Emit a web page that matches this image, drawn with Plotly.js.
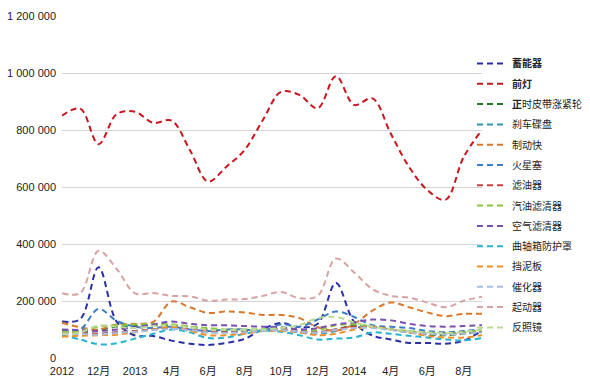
<!DOCTYPE html>
<html>
<head>
<meta charset="utf-8">
<script src="https://cdn.plot.ly/plotly-3.0.1.min.js"></script>
<style>html,body{margin:0;padding:0;background:#fff;}#chart{width:590px;height:386px;}</style>
</head>
<body>
<div id="chart"></div>
<script>
// Months Oct 2012 .. Sep 2014 (index 0..23)
const months = ["2012-10","2012-11","2012-12","2013-01","2013-02","2013-03","2013-04","2013-05","2013-06","2013-07","2013-08","2013-09",
                "2013-10","2013-11","2013-12","2014-01","2014-02","2014-03","2014-04","2014-05","2014-06","2014-07","2014-08","2014-09"];
const tickIdx = [0,2,4,6,8,10,12,14,16,18,20,22];
const tickLabels = ["2012","12月","2013","4月","6月","8月","10月","12月","2014","4月","6月","8月"];
const yTicks = [0,200000,400000,600000,800000,1000000,1200000];
const yTickLabels = ["0","200 000","400 000","600 000","800 000","1 000 000","1 200 000"];

const seriesNames = ["<b>蓄能器</b>","<b>前灯</b>","<b>正</b>时皮带涨紧轮","刹车碟盘","制动快","火星塞","滤油器","汽油滤清器","空气滤清器","曲轴箱防护罩","挡泥板","催化器","起动器","反照镜"];
const seriesColors = ["#2a2fa6","#c8161d","#1f7a22","#2f97ad","#d9782b","#3b7dc6","#c9403f","#8cc43f","#7a4fb0","#27b3d3","#f29026","#a9bde2","#d9a2a2","#bcd996"];

// values in thousands
const xuNengQi   = [128,137,318,127,79,77,61,50,46,53,67,102,123,108,120,263,126,79,65,53,53,50,61,96];
const qianDeng   = [850,875,750,856,864,825,833,730,619,671,730,835,934,923,876,989,888,911,788,671,590,555,706,800];
const zhengShi   = [95,95,98,110,112,115,115,110,100,95,95,95,100,95,90,100,115,110,100,90,82,80,85,92];
const shaChe     = [90,88,85,90,95,100,105,95,90,92,95,100,100,90,85,95,110,110,100,90,85,85,90,95];
const zhiDong    = [123,108,100,118,120,127,198,178,158,163,160,151,151,140,108,96,120,166,195,178,160,147,155,155];
const huoXingSai = [95,100,172,130,110,105,110,100,95,100,100,95,118,110,135,163,144,115,110,105,95,90,95,100];
const lvYou      = [88,88,85,90,95,100,105,100,92,90,92,98,100,95,90,100,110,108,100,92,85,85,88,95];
const qiYou      = [92,95,110,115,118,120,118,110,105,100,100,100,105,100,98,115,118,110,100,95,88,85,90,98];
const kongQi     = [100,98,95,100,108,118,128,120,115,115,112,110,108,100,105,118,125,135,132,120,112,110,112,115];
const quZhou     = [80,65,48,52,68,85,100,90,70,72,85,95,92,80,65,68,72,90,85,78,72,65,62,70];
const dangNi     = [75,78,80,82,90,100,110,95,80,80,85,95,95,90,80,85,100,110,100,90,78,72,72,80];
const cuiHua     = [85,84,82,88,92,98,102,98,90,88,90,95,98,92,88,98,105,105,98,90,85,82,85,90];
const qiDong     = [227,228,376,312,227,228,218,216,201,205,207,218,232,210,218,349,300,242,218,212,195,178,201,215];
const fanZhao    = [85,90,114,110,105,112,115,108,100,98,98,100,105,115,140,144,125,110,100,95,90,88,92,100];

const allSeries = [xuNengQi,qianDeng,zhengShi,shaChe,zhiDong,huoXingSai,lvYou,qiYou,kongQi,quZhou,dangNi,cuiHua,qiDong,fanZhao];
const xIdx = months.map((m,i)=>i);

const traces = allSeries.map((vals,k)=>({
  type:'scatter', mode:'lines',
  x:xIdx, y:vals.map(v=>v*1000),
  name:seriesNames[k],
  legendgroup:'g'+k,
  line:{color:seriesColors[k], width:2, dash:'6px,4px', shape:'spline', smoothing:1},
  hoverinfo:'skip'
}));

const W = 590, H = 386, ML = 62, MR = 0, MT = 16, MB = 28;
const innerW = W - ML - MR;
const layout = {
  width:W, height:H,
  margin:{l:ML, r:MR, t:MT, b:MB},
  paper_bgcolor:'#fff', plot_bgcolor:'#fff',
  font:{family:'"Liberation Sans", "Noto Sans CJK SC", Arial, sans-serif', size:11, color:'#222'},
  showlegend:true,
  legend:{x:(472-ML)/innerW, xanchor:'left', y:(358-49)/342, yanchor:'top', bgcolor:'rgba(0,0,0,0)',
          font:{size:10, color:'#222', family:'"Noto Sans CJK SC", "Liberation Sans", sans-serif'},
          tracegroupgap:1.3, itemwidth:30},
  xaxis:{domain:[0, 420/innerW], range:[0,23], tickvals:tickIdx, ticktext:tickLabels, showgrid:false, zeroline:false,
         showline:false, ticks:'', ticklabelstandoff:5, tickfont:{size:11, color:'#222'}, fixedrange:true},
  yaxis:{range:[0,1200000], tickvals:yTicks, ticktext:yTickLabels, showgrid:true, gridcolor:'#d4d4d4', gridwidth:1,
         zeroline:false, showline:false, ticks:'', ticklabelstandoff:5, tickfont:{size:11, color:'#222'}, fixedrange:true}
};

Plotly.newPlot('chart', traces, layout, {displayModeBar:false, staticPlot:true});
</script>
</body>
</html>
